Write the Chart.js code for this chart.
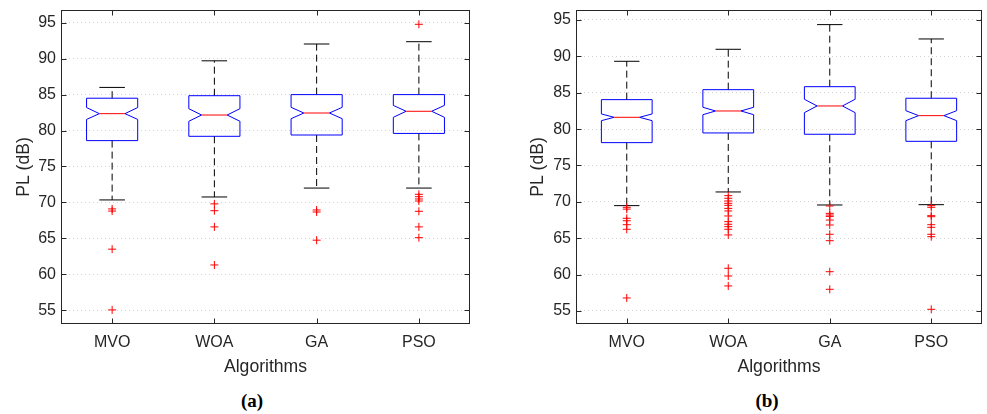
<!DOCTYPE html>
<html>
<head>
<meta charset="utf-8">
<script src="https://cdn.jsdelivr.net/npm/chart.js@4.4.1/dist/chart.umd.min.js"></script>
<style>
    body { margin: 0; background: #ffffff; width: 987px; height: 414px; position: relative; overflow: hidden; }
    canvas { position: absolute; top: 0; }
    .panel-label { position: absolute; top: 390px; font-family: "Liberation Serif", serif; font-weight: bold; font-size: 19px; color: #000; transform: translateX(-50%); }
</style>
</head>
<body>
<canvas id="chart-a" width="480" height="378" style="left:0px"></canvas>
<canvas id="chart-b" width="492" height="378" style="left:495px"></canvas>
<div class="panel-label" style="left:252px">(a)</div>
<div class="panel-label" style="left:767px">(b)</div>

<script>
const algorithms = ['MVO', 'WOA', 'GA', 'PSO'];
const yTickValues = [55, 60, 65, 70, 75, 80, 85, 90, 95];

// panel (a)
const aLowerWhisker = [70.35, 70.76, 72.0, 72.0];
const aQ1 = [78.6, 79.2, 79.38, 79.6];
const aNotchLow = [81.55, 81.29, 81.65, 81.84];
const aMedian = [82.35, 82.16, 82.44, 82.68];
const aNotchHigh = [83.2, 83.04, 83.23, 83.5];
const aQ3 = [84.5, 84.85, 85.0, 85.0];
const aUpperWhisker = [86.0, 89.7, 92.04, 92.36];
const aOutliers = [
    [69.1, 68.8, 63.5, 55.05],
    [69.8, 68.85, 66.6, 61.3],
    [68.95, 68.67, 64.75],
    [94.78, 71.13, 70.8, 70.48, 70.2, 68.77, 66.6, 65.1]
];

// panel (b)
const bLowerWhisker = [69.48, 71.36, 69.57, 69.61];
const bQ1 = [78.14, 79.47, 79.29, 78.32];
const bNotchLow = [81.16, 81.98, 82.26, 81.16];
const bMedian = [81.62, 82.49, 83.18, 81.85];
const bNotchHigh = [82.08, 83.0, 84.1, 82.53];
const bQ3 = [84.05, 85.42, 85.83, 84.24];
const bUpperWhisker = [89.32, 90.97, 94.36, 92.39];
const bOutliers = [
    [69.25, 69.0, 67.74, 67.4, 66.86, 66.23, 56.79],
    [70.85, 70.49, 70.12, 69.8, 69.52, 69.1, 68.75, 68.06, 67.28, 66.92, 66.59, 66.23, 65.45, 60.87, 59.81, 58.44],
    [69.43, 68.42, 68.19, 68.0, 67.5, 66.82, 65.54, 64.66, 60.4, 57.98],
    [69.48, 69.25, 68.1, 67.96, 66.86, 66.5, 65.54, 65.21, 55.23]
];

const TEXT_COLOR = '#262626';
const FONT = '"Liberation Sans", Arial, sans-serif';

// draws whiskers, notched boxes and medians through the chart scales
const boxPlugin = {
    id: 'notchedBoxes',
    beforeDatasetsDraw(chart) {
        const s = chart.options.plugins.notchedBoxes;
        const ctx = chart.ctx;
        const x = chart.scales.x;
        const y = chart.scales.y;

        algorithms.forEach((name, i) => {
            const left = x.getPixelForValue(i - 0.25);
            const right = x.getPixelForValue(i + 0.25);
            const mid = x.getPixelForValue(i);
            const inset = (right - left) / 4;
            const capL = x.getPixelForValue(i - 0.125);
            const capR = x.getPixelForValue(i + 0.125);

            ctx.save();
            ctx.lineWidth = 1;

            // dashed whiskers
            ctx.strokeStyle = '#000000';
            ctx.setLineDash([7, 4]);
            ctx.beginPath();
            ctx.moveTo(mid, y.getPixelForValue(s.q3[i]));
            ctx.lineTo(mid, y.getPixelForValue(s.upper[i]));
            ctx.moveTo(mid, y.getPixelForValue(s.q1[i]));
            ctx.lineTo(mid, y.getPixelForValue(s.lower[i]));
            ctx.stroke();

            // whisker caps
            ctx.setLineDash([]);
            ctx.beginPath();
            ctx.moveTo(capL, y.getPixelForValue(s.upper[i]));
            ctx.lineTo(capR, y.getPixelForValue(s.upper[i]));
            ctx.moveTo(capL, y.getPixelForValue(s.lower[i]));
            ctx.lineTo(capR, y.getPixelForValue(s.lower[i]));
            ctx.stroke();

            // notched box
            const yQ1 = y.getPixelForValue(s.q1[i]);
            const yQ3 = y.getPixelForValue(s.q3[i]);
            const yLo = y.getPixelForValue(s.notchLow[i]);
            const yHi = y.getPixelForValue(s.notchHigh[i]);
            const yMed = y.getPixelForValue(s.median[i]);
            ctx.strokeStyle = '#0000ff';
            ctx.beginPath();
            ctx.moveTo(left, yQ1);
            ctx.lineTo(left, yLo);
            ctx.lineTo(left + inset, yMed);
            ctx.lineTo(left, yHi);
            ctx.lineTo(left, yQ3);
            ctx.lineTo(right, yQ3);
            ctx.lineTo(right, yHi);
            ctx.lineTo(right - inset, yMed);
            ctx.lineTo(right, yLo);
            ctx.lineTo(right, yQ1);
            ctx.closePath();
            ctx.stroke();

            // median
            ctx.strokeStyle = '#ff0000';
            ctx.beginPath();
            ctx.moveTo(left + inset, yMed);
            ctx.lineTo(right - inset, yMed);
            ctx.stroke();
            ctx.restore();
        });
    },
    afterDraw(chart) {
        const ctx = chart.ctx;
        const area = chart.chartArea;
        const l = Math.round(area.left) + 0.5;
        const r = Math.round(area.right) - 0.5;
        const t = Math.round(area.top) + 0.5;
        const b = Math.round(area.bottom) - 0.5;
        const tick = 5;

        ctx.save();
        ctx.strokeStyle = TEXT_COLOR;
        ctx.lineWidth = 1;
        ctx.beginPath();
        chart.scales.y.ticks.forEach(tk => {
            const py = Math.round(chart.scales.y.getPixelForValue(tk.value)) + 0.5;
            ctx.moveTo(l, py); ctx.lineTo(l + tick, py);
            ctx.moveTo(r, py); ctx.lineTo(r - tick, py);
        });
        chart.scales.x.ticks.forEach(tk => {
            const px = Math.round(chart.scales.x.getPixelForValue(tk.value)) + 0.5;
            ctx.moveTo(px, b); ctx.lineTo(px, b - tick);
            ctx.moveTo(px, t); ctx.lineTo(px, t + tick);
        });
        ctx.stroke();
        ctx.strokeRect(l, t, r - l, b - t);
        ctx.restore();
    }
};

function buildOutlierPoints(outliers) {
    const points = [];
    outliers.forEach((list, i) => {
        list.forEach(v => points.push({ x: i, y: v }));
    });
    return points;
}

function makeChart(canvasId, stats, outliers, yMin, yMax, layout) {
    const ctx = document.getElementById(canvasId).getContext('2d');
    return new Chart(ctx, {
        type: 'scatter',
        data: {
            datasets: [{
                label: 'Outliers',
                data: buildOutlierPoints(outliers),
                pointStyle: 'cross',
                pointRadius: 4,
                borderColor: '#ff0000',
                backgroundColor: '#ff0000',
                borderWidth: 1
            }]
        },
        plugins: [boxPlugin],
        options: {
            responsive: false,
            animation: false,
            devicePixelRatio: 1,
            layout: {
                padding: { left: layout.padLeft, right: layout.padRight, top: 10, bottom: 0 }
            },
            plugins: {
                legend: { display: false },
                tooltip: { enabled: false },
                notchedBoxes: stats
            },
            scales: {
                x: {
                    type: 'linear',
                    min: -0.5,
                    max: 3.5,
                    afterBuildTicks: scale => {
                        scale.ticks = algorithms.map((a, i) => ({ value: i }));
                    },
                    afterFit: scale => {
                        scale.height = 54;
                        scale.paddingLeft = 0;
                        scale.paddingRight = 0;
                    },
                    grid: { display: false },
                    border: { display: false },
                    ticks: {
                        padding: 1,
                        color: TEXT_COLOR,
                        font: { family: FONT, size: 16 },
                        callback: value => algorithms[value]
                    },
                    title: {
                        display: true,
                        text: 'Algorithms',
                        color: TEXT_COLOR,
                        padding: 0,
                        font: { family: FONT, size: 17.6 }
                    }
                },
                y: {
                    min: yMin,
                    max: yMax,
                    afterBuildTicks: scale => {
                        scale.ticks = yTickValues.map(v => ({ value: v }));
                    },
                    afterFit: scale => {
                        scale.width = layout.yWidth;
                        scale.paddingTop = 0;
                        scale.paddingBottom = 0;
                    },
                    grid: { color: '#d2d2d2', drawTicks: false, lineWidth: 1 },
                    border: { display: false, dash: [1, 3] },
                    ticks: {
                        padding: 5,
                        color: TEXT_COLOR,
                        font: { family: FONT, size: 16 }
                    },
                    title: {
                        display: true,
                        text: 'PL (dB)',
                        color: TEXT_COLOR,
                        padding: 0,
                        font: { family: FONT, size: 17.6 }
                    }
                }
            }
        }
    });
}

makeChart('chart-a', {
    lower: aLowerWhisker, q1: aQ1, notchLow: aNotchLow, median: aMedian,
    notchHigh: aNotchHigh, q3: aQ3, upper: aUpperWhisker
}, aOutliers, 53.09, 96.77, { padLeft: 14, padRight: 10, yWidth: 47 });

makeChart('chart-b', {
    lower: bLowerWhisker, q1: bQ1, notchLow: bNotchLow, median: bMedian,
    notchHigh: bNotchHigh, q3: bQ3, upper: bUpperWhisker
}, bOutliers, 53.21, 96.37, { padLeft: 33, padRight: 2, yWidth: 48 });
</script>
</body>
</html>
